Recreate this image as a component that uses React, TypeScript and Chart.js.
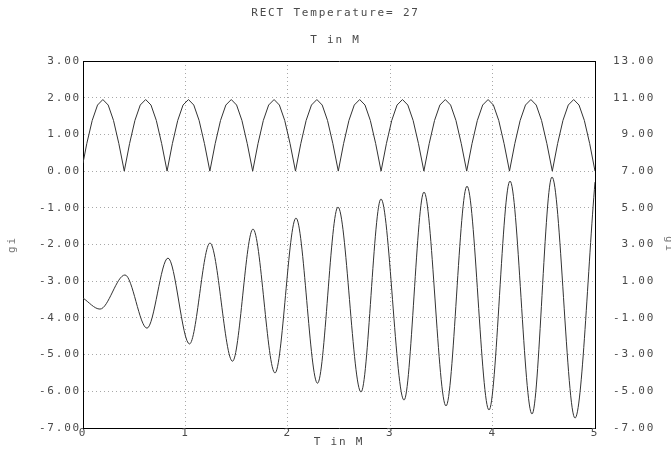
import React, { useEffect, useRef } from "react";
import { Chart, registerables } from "chart.js";

Chart.register(...registerables);

const titleText = "RECT Temperature= 27";
const subtitleText = "T in M";
const xAxisTitle = "T in M";
const leftAxisTitle = "gi";
const rightAxisTitle = "gi";

const xTicks = [0, 1, 2, 3, 4, 5];
const leftTicks = [-7, -6, -5, -4, -3, -2, -1, 0, 1, 2, 3];
const rightTicks = [-7, -5, -3, -1, 1, 3, 5, 7, 9, 11, 13];

// upper curve (left axis)
const topX = [
  0, 0.037, 0.09, 0.142, 0.194, 0.246, 0.298, 0.35, 0.403,
  0.455, 0.507, 0.559, 0.612, 0.664, 0.716, 0.768, 0.821,
  0.873, 0.925, 0.977, 1.03, 1.082, 1.134, 1.186, 1.239,
  1.291, 1.343, 1.395, 1.448, 1.5, 1.552, 1.604, 1.657,
  1.709, 1.761, 1.813, 1.866, 1.918, 1.97, 2.022, 2.075,
  2.127, 2.179, 2.231, 2.284, 2.336, 2.388, 2.44, 2.493,
  2.545, 2.597, 2.649, 2.702, 2.754, 2.806, 2.858, 2.911,
  2.963, 3.015, 3.067, 3.12, 3.172, 3.224, 3.276, 3.329,
  3.381, 3.433, 3.485, 3.538, 3.59, 3.642, 3.694, 3.747,
  3.799, 3.851, 3.903, 3.956, 4.008, 4.06, 4.112, 4.165,
  4.217, 4.269, 4.321, 4.374, 4.426, 4.478, 4.53, 4.583,
  4.635, 4.687, 4.739, 4.792, 4.844, 4.896, 4.948, 5.0,
];
const topY = [
  0.22, 0.75, 1.38, 1.8, 1.95, 1.8, 1.38, 0.75, 0,
  0.75, 1.38, 1.8, 1.95, 1.8, 1.38, 0.75, 0,
  0.75, 1.38, 1.8, 1.95, 1.8, 1.38, 0.75, 0,
  0.75, 1.38, 1.8, 1.95, 1.8, 1.38, 0.75, 0,
  0.75, 1.38, 1.8, 1.95, 1.8, 1.38, 0.75, 0,
  0.75, 1.38, 1.8, 1.95, 1.8, 1.38, 0.75, 0,
  0.75, 1.38, 1.8, 1.95, 1.8, 1.38, 0.75, 0,
  0.75, 1.38, 1.8, 1.95, 1.8, 1.38, 0.75, 0,
  0.75, 1.38, 1.8, 1.95, 1.8, 1.38, 0.75, 0,
  0.75, 1.38, 1.8, 1.95, 1.8, 1.38, 0.75, 0,
  0.75, 1.38, 1.8, 1.95, 1.8, 1.38, 0.75, 0,
  0.75, 1.38, 1.8, 1.95, 1.8, 1.38, 0.75, 0,
];

// lower curve (right axis) — extrema
const bottomX = [
  0, 0.166, 0.41, 0.625, 0.83, 1.04, 1.24, 1.46, 1.66, 1.875, 2.08, 2.29, 2.49,
  2.715, 2.91, 3.135, 3.33, 3.545, 3.75, 3.965, 4.17, 4.385, 4.58, 4.805, 5.0,
];
const bottomY = [
  0.08, -0.52, 1.34, -1.56, 2.26, -2.42, 3.08, -3.36, 3.84, -4.0, 4.44, -4.56, 5.04,
  -5.04, 5.48, -5.48, 5.86, -5.8, 6.18, -6.02, 6.46, -6.24, 6.68, -6.46, 6.4,
];

const FONT = "'DejaVu Sans Mono', 'Liberation Mono', monospace";
const TEXT = "#4a4a4a";
const GRID = "#a8a8a8";

export default function App() {
  const ref = useRef<HTMLCanvasElement | null>(null);

  useEffect(() => {
    if (!ref.current) return;
    const spacing = {
      id: "spacing",
      beforeUpdate(chart: any) {
        try { chart.ctx.letterSpacing = "1.8px"; } catch (e) {}
      },
      beforeDraw(chart: any) {
        try { chart.ctx.letterSpacing = "1.8px"; } catch (e) {}
      },
    };
    const chart = new Chart(ref.current, {
      type: "line",
      data: {
        datasets: [
          {
            label: "top",
            data: topX.map((x, i) => ({ x, y: topY[i] })),
            yAxisID: "y",
            borderColor: "#333",
            borderWidth: 1,
            pointRadius: 0,
            tension: 0,
            fill: false,
          },
          {
            label: "bottom",
            data: bottomX.map((x, i) => ({ x, y: bottomY[i] })),
            yAxisID: "y2",
            borderColor: "#333",
            borderWidth: 1,
            pointRadius: 0,
            cubicInterpolationMode: "monotone",
            fill: false,
          },
        ],
      },
      options: {
        responsive: false,
        animation: false,
        events: [],
        layout: { padding: 0 },
        plugins: {
          legend: { display: false },
          tooltip: { enabled: false },
          title: {
            display: true,
            text: titleText,
            color: TEXT,
            font: { family: FONT, size: 11, weight: "normal", lineHeight: 1.2 },
            padding: { top: 6.4, bottom: 13.8 },
          },
          subtitle: {
            display: true,
            text: subtitleText,
            color: TEXT,
            font: { family: FONT, size: 11, weight: "normal", lineHeight: 1.2 },
            padding: { top: 0, bottom: 14.4 },
          },
        },
        scales: {
          x: {
            type: "linear",
            position: "bottom",
            min: 0,
            max: 5,
            afterBuildTicks: (s: any) => { s.ticks = xTicks.map((v) => ({ value: v })); },
            afterFit: (s: any) => { s.height = 33; },
            ticks: {
              color: TEXT,
              font: { family: FONT, size: 11, lineHeight: 1 },
              padding: 0,
              callback: (v: any) => String(v),
            },
            grid: { color: GRID, drawTicks: false, lineWidth: 1 },
            border: { color: "#000", width: 1, dash: [1, 3] },
            title: {
              display: true,
              text: xAxisTitle,
              color: TEXT,
              font: { family: FONT, size: 11, lineHeight: 1 },
              padding: { top: 0, bottom: 13.5 },
            },
          },
          x2: {
            type: "linear",
            position: "top",
            min: 0,
            max: 5,
            afterFit: (s: any) => { s.height = 0; },
            ticks: { display: false },
            grid: { drawOnChartArea: false, drawTicks: false },
            border: { color: "#000", width: 1 },
          },
          y: {
            type: "linear",
            position: "left",
            min: -7,
            max: 3,
            afterBuildTicks: (s: any) => { s.ticks = leftTicks.map((v) => ({ value: v })); },
            afterFit: (s: any) => { s.width = 83; },
            ticks: {
              color: TEXT,
              font: { family: FONT, size: 11, lineHeight: 1.2 },
              padding: 2,
              callback: (v: any) => Number(v).toFixed(2),
            },
            grid: { color: GRID, drawTicks: false, lineWidth: 1 },
            border: { color: "#000", width: 1, dash: [1, 3] },
            title: {
              display: true,
              text: leftAxisTitle,
              color: "#777",
              font: { family: FONT, size: 11, lineHeight: 1 },
              padding: { top: 6.5, bottom: 0 },
            },
          },
          y2: {
            type: "linear",
            position: "right",
            min: -7,
            max: 13,
            afterBuildTicks: (s: any) => { s.ticks = rightTicks.map((v) => ({ value: v })); },
            afterFit: (s: any) => { s.width = 76; },
            ticks: {
              color: TEXT,
              font: { family: FONT, size: 11, lineHeight: 1.2 },
              padding: 18,
              crossAlign: "near",
              callback: (v: any) => Number(v).toFixed(2).padStart(5, " "),
            },
            grid: { drawOnChartArea: false, drawTicks: false },
            border: { color: "#000", width: 1 },
            title: {
              display: true,
              text: rightAxisTitle,
              color: "#777",
              font: { family: FONT, size: 11, lineHeight: 1 },
              padding: { top: -3, bottom: 0 },
            },
          },
        },
      },
      plugins: [spacing],
    } as any);
    return () => chart.destroy();
  }, []);

  return (
    <div style={{ position: "absolute", left: 0, top: 0, width: 671, height: 461, background: "#fff" }}>
      <canvas ref={ref} width={671} height={461} style={{ display: "block", width: 671, height: 461 }} />
    </div>
  );
}
